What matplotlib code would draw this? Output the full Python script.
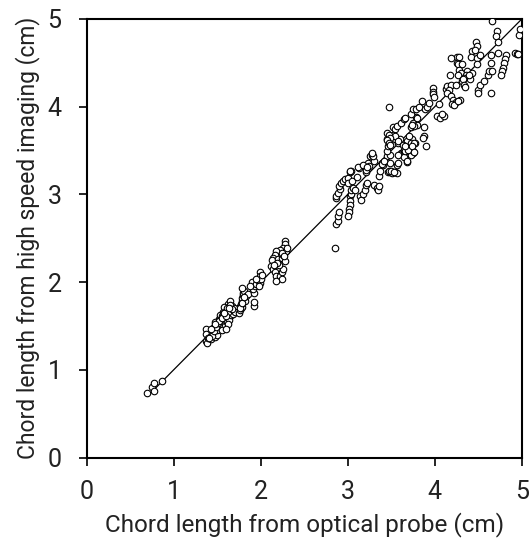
import numpy as np
import matplotlib
matplotlib.use("Agg")
import matplotlib.pyplot as plt

plt.rcParams['font.family'] = ['Roboto', 'DejaVu Sans']

# optical probe (x) vs high speed imaging (y), chord lengths in cm
probe = [
    # smallest bubbles
    0.69, 0.75, 0.77, 0.77, 0.87,
    # cluster around 1.5
    1.37, 1.37, 1.37, 1.38, 1.40, 1.42, 1.43, 1.44, 1.45, 1.46, 1.47, 1.47, 1.48, 1.49,
    1.50, 1.50, 1.51, 1.52, 1.52, 1.53, 1.54, 1.54, 1.55, 1.55, 1.56, 1.56, 1.57, 1.57,
    1.58, 1.58, 1.59, 1.59, 1.60, 1.60, 1.61, 1.61, 1.62, 1.62, 1.63, 1.63, 1.64, 1.64,
    1.65, 1.65, 1.66, 1.66, 1.67, 1.68, 1.69, 1.70, 1.53, 1.48, 1.45, 1.58, 1.62, 1.50,
    1.56, 1.60,
    1.44, 1.46, 1.49, 1.51, 1.53, 1.55, 1.57, 1.59, 1.61, 1.63, 1.65, 1.67, 1.52, 1.56,
    1.60, 1.64, 1.47, 1.43, 1.41, 1.58,
    # cluster around 1.8 - 2.0
    1.75, 1.76, 1.77, 1.78, 1.77, 1.78, 1.79, 1.80, 1.80, 1.81, 1.82, 1.83, 1.85, 1.78,
    1.92, 1.92, 1.92, 1.91, 1.90, 1.93, 1.95, 1.97, 1.99, 1.99, 1.99, 2.00, 2.01, 1.98,
    1.88, 1.95, 1.76, 1.79, 1.81,
    # cluster around 2.2
    2.28, 2.28, 2.26, 2.22, 2.18, 2.16, 2.14, 2.13, 2.12, 2.14, 2.16, 2.18, 2.22, 2.24,
    2.26, 2.24, 2.17, 2.20, 2.24, 2.26, 2.28, 2.29, 2.30, 2.21, 2.19, 2.25, 2.27, 2.15,
    # middle cloud 2.85 - 3.75
    2.85, 2.87, 2.89, 2.89, 2.90, 2.87, 2.87, 2.89, 2.91, 2.90, 2.92, 2.95, 2.97, 3.00,
    3.03, 3.04, 3.00, 3.05, 3.10, 3.13, 3.23, 3.24, 3.21, 3.26, 3.28, 3.45, 3.48, 3.39,
    3.40, 3.48, 3.36, 3.46, 3.48, 3.51, 3.54, 3.56, 3.57, 3.58, 3.61, 3.66, 3.68, 3.75,
    3.03, 3.04, 3.03, 3.02, 3.01, 3.01, 3.00, 3.04, 3.06, 3.08, 3.14, 3.15, 3.17, 3.20,
    3.21, 3.22, 3.30, 3.33, 3.35, 3.36,
    3.03, 3.12, 3.17, 3.21, 3.22, 3.30, 3.29, 3.28, 3.37, 3.39, 3.41, 3.47, 3.50, 3.53,
    3.45, 3.46, 3.45, 3.45, 3.52, 3.52, 3.54, 3.54, 3.60, 3.58, 3.62, 3.64, 3.58, 3.64,
    3.68, 3.72, 3.75, 3.77, 3.74, 3.68, 3.70, 3.72, 3.75, 3.78, 3.79,
    # upper cloud 3.45 - 5
    3.47, 3.52, 3.54, 3.47, 3.49, 3.45, 3.47, 3.49, 3.58, 3.63, 3.64, 3.66, 3.69, 3.66,
    3.73, 3.76, 3.74, 3.87, 3.86, 3.76, 3.74, 3.80, 3.87, 3.76, 3.90,
    3.56, 3.61, 3.64, 3.66, 3.72, 3.75, 3.78, 3.82, 3.85, 3.89, 3.91, 3.93,
    3.98, 3.98, 3.98, 3.99, 4.02, 4.06, 4.10, 4.08, 4.05,
    4.13, 4.14, 4.18, 4.24, 4.31, 4.40, 4.16, 4.14, 4.18, 4.21, 4.24, 4.20, 4.22, 4.29,
    4.26, 4.17, 4.25, 4.28, 4.18, 4.25, 4.27, 4.31, 4.28, 4.30, 4.26,
    4.37, 4.36, 4.34, 4.32, 4.33, 4.35, 4.43, 4.39, 4.43, 4.42, 4.48, 4.52, 4.48,
    4.47, 4.48, 4.46, 4.50, 4.50, 4.52, 4.56, 4.61, 4.62, 4.65, 4.66, 4.65, 4.64,
    4.66, 4.71, 4.70, 4.73, 4.73, 4.82, 4.80, 4.79, 4.78, 4.77, 4.76,
    4.92, 4.94, 4.96, 4.97, 4.98,
]

camera = [
    0.74, 0.80, 0.85, 0.76, 0.87,
    1.47, 1.41, 1.33, 1.31, 1.36, 1.38, 1.35, 1.42, 1.40, 1.45, 1.37, 1.50, 1.43, 1.47,
    1.52, 1.40, 1.55, 1.46, 1.58, 1.50, 1.53, 1.60, 1.48, 1.56, 1.63, 1.52, 1.58, 1.66,
    1.55, 1.61, 1.69, 1.50, 1.58, 1.64, 1.72, 1.55, 1.62, 1.68, 1.60, 1.75, 1.65, 1.57,
    1.70, 1.79, 1.62, 1.67, 1.73, 1.64, 1.70, 1.66, 1.63, 1.55, 1.48, 1.72, 1.52, 1.45,
    1.45, 1.47,
    1.39, 1.44, 1.49, 1.53, 1.57, 1.61, 1.64, 1.66, 1.70, 1.66, 1.74, 1.69, 1.56, 1.59,
    1.61, 1.70, 1.52, 1.46, 1.36, 1.65,
    1.65, 1.68, 1.70, 1.72, 1.75, 1.78, 1.82, 1.85, 1.88, 1.90, 1.79, 1.84, 1.87, 1.93,
    1.73, 1.77, 1.88, 1.92, 2.00, 1.96, 1.98, 2.02, 2.11, 2.07, 1.99, 2.04, 2.08, 1.95,
    1.96, 2.04, 1.70, 1.76, 1.83,
    2.47, 2.43, 2.39, 2.37, 2.35, 2.31, 2.28, 2.25, 2.18, 2.15, 2.11, 2.07, 2.07, 2.11,
    2.15, 2.04, 2.01, 2.26, 2.28, 2.31, 2.24, 2.35, 2.39, 2.20, 2.22, 2.33, 2.30, 2.20,
    2.39, 2.66, 2.70, 2.75, 2.80, 2.96, 2.98, 3.02, 3.06, 3.09, 3.13, 3.15, 3.17, 3.19,
    3.25, 3.27, 3.13, 3.15, 3.20, 3.30, 3.36, 3.32, 3.25, 3.44, 3.45, 3.44, 3.45, 3.36,
    3.34, 3.36, 3.21, 3.25, 3.25, 3.24, 3.25, 3.24, 3.34, 3.36, 3.47, 3.44, 3.37, 3.47,
    2.98, 3.00, 2.92, 2.88, 2.83, 2.80, 2.75, 3.05, 3.07, 3.05, 2.98, 2.93, 3.00, 3.05,
    3.11, 3.13, 3.11, 3.07, 3.05, 3.10,
    3.27, 3.31, 3.34, 3.28, 3.31, 3.38, 3.44, 3.47, 3.27, 3.35, 3.38, 3.27, 3.27, 3.26,
    3.49, 3.55, 3.63, 3.70, 3.68, 3.77, 3.75, 3.63, 3.63, 3.59, 3.47, 3.49, 3.45, 3.43,
    3.38, 3.45, 3.49, 3.59, 3.63, 3.61, 3.66, 3.77, 3.81, 3.88, 3.79,
    3.99, 3.68, 3.66, 3.68, 3.64, 3.62, 3.58, 3.56, 3.61, 3.56, 3.51, 3.49, 3.51, 3.55,
    3.58, 3.58, 3.55, 3.66, 3.64, 3.78, 3.79, 3.87, 3.77, 3.48, 3.55,
    3.78, 3.81, 3.86, 3.87, 3.91, 3.97, 3.97, 4.00, 4.06, 3.97, 4.00, 4.04,
    4.21, 4.17, 4.14, 4.11, 3.89, 3.87, 3.89, 3.91, 4.03,
    4.20, 4.23, 4.25, 4.25, 4.29, 4.31, 4.19, 4.16, 4.12, 4.08, 4.05, 4.03, 4.02, 4.08,
    4.06, 4.36, 4.57, 4.57, 4.55, 4.50, 4.48, 4.48, 4.42, 4.38, 4.36,
    4.40, 4.36, 4.33, 4.31, 4.25, 4.22, 4.38, 4.36, 4.63, 4.57, 4.55, 4.59, 4.48,
    4.74, 4.69, 4.65, 4.19, 4.16, 4.25, 4.29, 4.36, 4.40, 4.15, 4.40, 4.50, 4.59,
    4.98, 4.86, 4.81, 4.74, 4.61, 4.59, 4.54, 4.50, 4.44, 4.40, 4.36,
    4.61, 4.60, 4.60, 4.82, 4.88,
]

fit_x = [0.7, 5.0]

fig = plt.figure(figsize=(5.31, 5.54), dpi=100)
ax = fig.add_axes([0.163, 0.174, 0.820, 0.792])

ax.plot(fit_x, fit_x, color="black", linewidth=0.9, zorder=2)
ax.scatter(probe, camera, s=22, facecolors="white", edgecolors="black",
           linewidths=0.8, zorder=3)

ax.set_xlim(0, 5)
ax.set_ylim(0, 5)
ax.set_xticks([0, 1, 2, 3, 4, 5])
ax.set_yticks([0, 1, 2, 3, 4, 5])
ax.tick_params(direction="out", length=6, width=1.2, labelsize=18, labelcolor="#222222")
ax.tick_params(axis="x", pad=10)
ax.tick_params(axis="y", pad=12)
for s in ax.spines.values():
    s.set_linewidth(1.5)

ax.set_xlabel("Chord length from optical probe (cm)", fontsize=17.5, labelpad=6,
              color="#222222")
ax.set_ylabel("Chord length from high speed imaging (cm)", fontsize=16.5, labelpad=5,
              color="#222222")

fig.savefig("out.png", dpi=100)
